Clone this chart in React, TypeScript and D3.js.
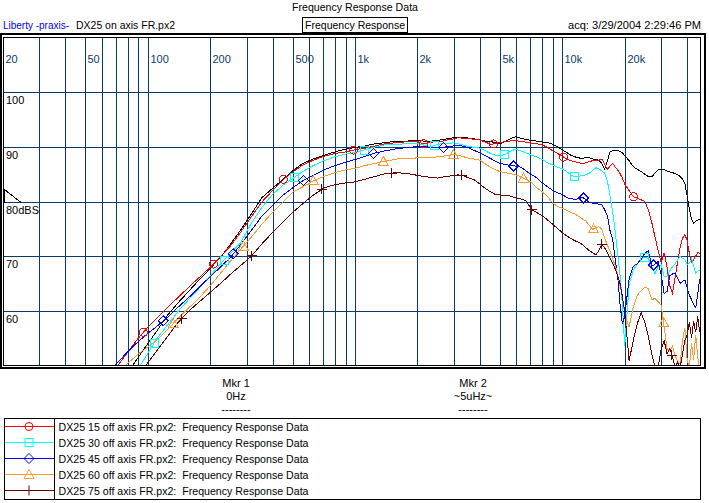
import * as d3 from 'd3';

// measurement grid (Hz) shared by every trace
const freqHz = [
  60, 70, 80, 90, 100, 110, 125, 140, 160, 180,
  200, 225, 250, 280, 315, 355, 400, 450, 500, 560,
  630, 710, 800, 900, 1000, 1120, 1250, 1400, 1600, 1800,
  2000, 2120, 2240, 2360, 2500, 2650, 2800, 3000, 3150, 3350,
  3550, 3750, 4000, 4250, 4500, 4750, 5000, 5300, 5600, 5950,
  6300, 6700, 7100, 7500, 8000, 8500, 9000, 9500, 10000,
  10500, 11000, 11500, 12000, 12500, 13000, 13500, 14000, 14500, 15000,
  15500, 16000, 16500, 17000, 17500, 18000, 18500, 19000, 19500, 20000,
  21000, 22000, 23000, 24000, 25000, 26000, 27000, 28000, 29000, 30000,
  31000, 32000, 33000, 34000, 35000, 36000, 37000, 38000, 39000, 40000,
  41000, 42000, 43000, 44000, 45000, 46000,
];

// on-axis reference trace (black, not in legend)
const dbOnAxis = [
  41.7, 45.4, 48.6, 51.4, 53.9, 56.1, 59.2, 61.4, 63.8, 65.9,
  67.7, 69.8, 72.1, 74.7, 77.6, 80.7, 82.4, 84.1, 85.6, 87.0,
  87.8, 88.5, 89.1, 89.6, 89.9, 90.2, 90.6, 90.8, 91.1, 91.1,
  91.2, 91.1, 91.1, 91.1, 91.2, 91.4, 91.5, 91.7, 91.8, 91.8,
  91.6, 91.5, 91.3, 91.1, 91.0, 90.8, 90.6, 91.0, 91.5, 91.9,
  91.6, 91.4, 91.2, 91.1, 90.9, 90.8, 90.5, 90.0, 89.5,
  89.0, 88.5, 88.2, 88.0, 87.9, 88.1, 88.0, 87.8, 87.7, 87.6,
  87.0, 85.9, 87.5, 89.1, 89.3, 89.4, 89.4, 89.2, 88.9, 88.4,
  87.5, 86.4, 85.9, 85.5, 85.0, 84.6, 84.5, 85.2, 85.8, 85.9,
  85.9, 85.6, 85.4, 85.3, 85.1, 84.9, 84.6, 84.1, 83.3, 81.0,
  78.6, 76.8, 76.0, 76.4, 76.6, 76.7,
];

const db15 = [
  46.1, 49.4, 52.3, 54.9, 56.9, 58.5, 60.6, 62.4, 64.5, 66.3,
  67.9, 69.9, 71.8, 74.3, 77.1, 79.9, 82.0, 84.0, 85.4, 86.7,
  87.6, 88.3, 88.8, 89.1, 89.5, 89.8, 90.2, 90.6, 90.8, 91.0,
  91.0, 90.6, 90.7, 90.9, 91.0, 91.1, 91.3, 91.5, 91.7, 91.6,
  91.6, 91.4, 91.3, 90.9, 90.5, 90.6, 90.8, 91.0, 91.1, 91.2,
  91.0, 90.9, 90.7, 90.6, 90.4, 89.9, 89.3, 88.8, 88.3,
  87.8, 87.5, 87.3, 87.1, 87.0, 87.1, 87.3, 87.5, 87.6, 87.6,
  87.8, 86.9, 85.9, 86.5, 87.0, 86.3, 85.8, 85.1, 84.3, 83.2,
  82.0, 80.9, 80.6, 80.3, 80.0, 78.5, 76.2, 73.5, 71.0, 68.8,
  70.6, 68.0, 64.5, 63.2, 66.0, 69.0, 71.5, 73.2, 74.0, 72.8,
  70.5, 68.8, 69.3, 70.0, 70.6, 70.5,
];

const db30 = [
  39.8, 43.4, 46.5, 49.3, 52.1, 54.7, 57.4, 59.8, 62.3, 64.4,
  66.3, 68.6, 70.4, 72.4, 75.9, 78.9, 81.3, 83.0, 84.2, 85.5,
  86.6, 87.5, 88.2, 88.7, 89.0, 89.5, 90.0, 90.4, 90.5, 90.6,
  90.6, 90.4, 90.2, 90.1, 90.5, 90.6, 90.6, 90.8, 90.6, 90.3,
  90.1, 89.9, 89.8, 89.3, 88.8, 88.5, 88.4, 88.6, 89.2, 89.6,
  89.3, 88.9, 88.5, 88.2, 87.7, 87.1, 86.7, 86.3, 86.0,
  85.5, 84.9, 84.5, 84.6, 84.8, 84.9, 85.2, 85.7, 86.2, 86.0,
  85.6, 85.2, 83.8, 80.9, 78.0, 74.5, 70.3, 66.3, 61.0, 53.5,
  64.8, 67.4, 68.5, 69.4, 69.8, 69.5, 68.1, 66.8, 68.0, 68.4,
  66.2, 66.3, 67.3, 68.0, 68.6, 69.3, 69.9, 69.6, 69.3, 68.5,
  68.6, 69.5, 68.2, 66.9, 67.2, 67.4,
];

const db45 = [
  47.6, 50.1, 52.4, 54.3, 55.8, 57.0, 58.8, 60.6, 62.6, 64.5,
  66.2, 68.0, 69.7, 72.0, 74.6, 77.3, 79.3, 81.2, 82.5, 83.8,
  84.8, 85.8, 86.6, 87.2, 87.7, 88.3, 88.9, 89.3, 89.7, 89.9,
  90.1, 90.1, 90.0, 90.0, 90.0, 89.9, 90.1, 90.2, 90.3, 90.1,
  89.8, 89.4, 88.9, 88.4, 87.9, 87.4, 87.0, 86.8, 86.6, 86.5,
  86.3, 85.6, 84.9, 84.4, 83.4, 82.7, 82.0, 81.6, 81.3,
  80.7, 80.5, 80.4, 80.5, 80.8, 80.3, 79.8, 79.7, 79.7, 79.5,
  79.4, 78.5, 77.4, 74.6, 73.0, 69.3, 66.2, 61.0, 57.5, 59.0,
  65.8, 68.1, 68.6, 69.4, 70.5, 71.0, 68.1, 68.5, 69.0, 66.5,
  63.1, 63.5, 66.4, 66.7, 66.8, 65.9, 65.0, 65.3, 65.6, 64.2,
  62.8, 62.0, 61.2, 60.5, 63.0, 65.8,
];

const db60 = [
  45.6, 48.1, 50.3, 52.0, 53.3, 54.5, 56.6, 58.5, 60.7, 62.6,
  64.5, 66.9, 69.0, 71.2, 73.4, 75.8, 78.0, 79.9, 81.7, 82.7,
  83.8, 84.6, 85.3, 85.8, 86.1, 86.6, 87.0, 87.4, 87.8, 87.9,
  88.0, 88.0, 88.1, 88.1, 88.2, 88.3, 88.5, 88.6, 88.5, 88.2,
  87.9, 87.8, 87.6, 86.9, 86.3, 85.8, 85.5, 85.3, 85.1, 84.9,
  84.6, 84.0, 83.5, 82.6, 81.8, 80.9, 79.7, 79.1, 78.8,
  78.4, 78.0, 77.7, 77.3, 76.8, 76.4, 75.6, 74.9, 75.1, 75.4,
  74.9, 73.3, 72.0, 70.9, 69.5, 68.2, 66.6, 64.5, 62.5, 59.3,
  57.0, 60.7, 62.8, 63.6, 64.3, 64.0, 62.0, 62.2, 61.6, 61.0,
  57.0, 53.0, 52.6, 53.4, 51.8, 50.6, 50.2, 54.5, 56.8, 51.0,
  49.5, 54.0, 51.0, 55.5, 51.5, 49.0,
];

const db75 = [
  39.1, 42.6, 45.5, 48.1, 50.4, 52.5, 55.3, 57.8, 60.1, 61.8,
  63.3, 65.0, 66.6, 68.2, 69.9, 72.2, 74.3, 76.3, 78.0, 79.6,
  81.2, 82.5, 83.1, 83.4, 83.6, 84.1, 84.6, 85.1, 85.3, 85.1,
  84.8, 84.6, 84.5, 84.4, 84.3, 84.5, 84.6, 84.8, 84.9, 84.7,
  84.3, 84.0, 83.2, 82.4, 81.8, 81.3, 81.2, 81.1, 81.0, 80.7,
  80.5, 80.1, 78.5, 78.0, 77.4, 76.6, 75.8, 75.0, 74.3,
  73.7, 73.2, 72.8, 72.5, 72.1, 71.5, 71.0, 70.6, 70.2, 71.0,
  72.2, 71.5, 70.6, 69.6, 68.7, 67.6, 66.4, 64.9, 62.5, 59.8,
  50.8, 54.5, 57.6, 59.6, 57.8, 55.2, 52.1, 49.5, 49.5, 53.0,
  54.5, 52.0, 53.0, 51.5, 49.5, 50.5, 49.5, 52.0, 54.5, 55.5,
  57.8, 55.0, 58.0, 56.0, 58.9, 56.0,
];

const legendLabels = [
  'DX25 15 off axis FR.px2:  Frequency Response Data',
  'DX25 30 off axis FR.px2:  Frequency Response Data',
  'DX25 45 off axis FR.px2:  Frequency Response Data',
  'DX25 60 off axis FR.px2:  Frequency Response Data',
  'DX25 75 off axis FR.px2:  Frequency Response Data',
];
const seriesColors = ['#ff0000', '#00ffff', '#0000ff', '#ff9933', '#6b0000'];
const seriesSymbols = ['circle', 'square', 'diamond', 'triangle', 'plus'];
const seriesValues = [db15, db30, db45, db60, db75];
// first marker frequency of each trace, markers repeat every 2.177x
const markerStartHz = [95.3, 107.3, 118.9, 132.9, 145.9];
const markerRatio = 2.177;
const markerCount = 8;

const xLabelHz = [20, 50, 100, 200, 500, 1000, 2000, 5000, 10000, 20000];
const xLabelText = ['20', '50', '100', '200', '500', '1k', '2k', '5k', '10k', '20k'];
const yGridDb = [100, 90, 80, 70, 60];
const yLabelText = ['100', '90', '80dBS', '70', '60'];

const GRID = '#0b3b6b';
const FONT = '"Liberation Sans", Arial, sans-serif';

const x = d3.scaleLog().domain([20, 46000]).range([2.8, 699.7]);
const y = d3.scaleLinear().domain([50, 110]).range([365, 38]);

function levelAt(values: number[], f: number) {
  const i = d3.bisectLeft(freqHz, f);
  if (i <= 0) return values[0];
  if (i >= freqHz.length) return values[values.length - 1];
  const a = Math.log10(freqHz[i - 1]);
  const b = Math.log10(freqHz[i]);
  const t = (Math.log10(f) - a) / (b - a);
  return values[i - 1] + t * (values[i] - values[i - 1]);
}

function Symbol({ kind, cx, cy, color }: { kind: string; cx: number; cy: number; color: string }) {
  const p = { stroke: color, fill: 'none', strokeWidth: 1 };
  if (kind === 'circle') return <circle cx={cx} cy={cy} r={4} {...p} />;
  if (kind === 'square') return <rect x={cx - 4} y={cy - 4} width={8} height={8} {...p} />;
  if (kind === 'diamond')
    return <path d={`M${cx},${cy - 5}L${cx + 5},${cy}L${cx},${cy + 5}L${cx - 5},${cy}Z`} {...p} />;
  if (kind === 'triangle')
    return <path d={`M${cx},${cy - 5}L${cx + 5},${cy + 4}L${cx - 5},${cy + 4}Z`} {...p} />;
  return <path d={`M${cx - 5},${cy}H${cx + 5}M${cx},${cy - 5}V${cy + 5}`} {...p} />;
}

export default function App() {
  const line = d3
    .line<number>()
    .x((_, i) => x(freqHz[i]))
    .y((d) => y(d));

  const vGrid = x.ticks().filter((t) => t > 20);
  const y80 = Math.round(y(80)) + 0.5;

  return (
    <svg
      width={709}
      height={503}
      style={{ position: 'absolute', left: 0, top: 0, background: '#fff' }}
      fontFamily={FONT}
      fontSize={11}
    >
      <defs>
        <clipPath id="plotClip">
          <rect x={3.5} y={38} width={697} height={327} />
        </clipPath>
      </defs>

      {/* header */}
      <text x={355} y={11} textAnchor="middle" textLength={126} lengthAdjust="spacingAndGlyphs">
        Frequency Response Data
      </text>
      <text x={3} y={29} fill="#0000ff" textLength={66} lengthAdjust="spacingAndGlyphs">
        Liberty -praxis-
      </text>
      <text x={76} y={29} textLength={99} lengthAdjust="spacingAndGlyphs">
        DX25 on axis FR.px2
      </text>
      <rect x={302.5} y={17.5} width={105} height={14.5} fill="none" stroke="#000" shapeRendering="crispEdges" />
      <text x={305} y={29} textLength={100} lengthAdjust="spacingAndGlyphs">
        Frequency Response
      </text>
      <text x={701} y={29} textAnchor="end" textLength={133} lengthAdjust="spacingAndGlyphs">
        acq: 3/29/2004 2:29:46 PM
      </text>

      {/* grid */}
      <g stroke={GRID} strokeWidth={1} shapeRendering="crispEdges">
        {vGrid.map((t) => (
          <line key={t} x1={Math.round(x(t)) + 0.5} x2={Math.round(x(t)) + 0.5} y1={38} y2={365} />
        ))}
        {yGridDb.map((d) => (
          <line key={d} x1={3.5} x2={700.5} y1={Math.round(y(d)) + 0.5} y2={Math.round(y(d)) + 0.5} />
        ))}
      </g>
      {xLabelHz.map((f, i) => (
        <text key={f} x={Math.round(x(f)) + 2.5} y={63} fill={GRID}>
          {xLabelText[i]}
        </text>
      ))}
      {yGridDb.map((d, i) => (
        <text key={d} x={6} y={Math.round(y(d)) + 12} fill="#000">
          {yLabelText[i]}
        </text>
      ))}
      <path
        d={`M4.5,${y80}V${y80 - 13}L21,${y80}`}
        fill="none"
        stroke="#000"
        shapeRendering="crispEdges"
      />

      {/* traces */}
      <g clipPath="url(#plotClip)" fill="none" strokeWidth={1} shapeRendering="crispEdges">
        <path d={line(dbOnAxis) ?? ''} stroke="#000" />
        {seriesValues.map((vals, s) => (
          <path key={s} d={line(vals) ?? ''} stroke={seriesColors[s]} />
        ))}
        {seriesValues.map((vals, s) =>
          d3.range(markerCount).map((k) => {
            const f = markerStartHz[s] * Math.pow(markerRatio, k);
            return (
              <Symbol
                key={`${s}-${k}`}
                kind={seriesSymbols[s]}
                cx={x(f)}
                cy={y(levelAt(vals, f))}
                color={seriesColors[s]}
              />
            );
          })
        )}
      </g>

      {/* frame */}
      <rect x={3.5} y={37.5} width={697} height={327.5} fill="none" stroke="#000" shapeRendering="crispEdges" />
      <rect x={1} y={34} width={704} height={334} fill="none" stroke="#000" strokeWidth={2} shapeRendering="crispEdges" />

      {/* markers readout */}
      {[
        { cx: 236, lines: ['Mkr 1', '0Hz', '--------'] },
        { cx: 473, lines: ['Mkr 2', '~5uHz~', '--------'] },
      ].map((m) =>
        m.lines.map((t, i) => (
          <text key={`${m.cx}-${i}`} x={m.cx} y={387 + i * 13} textAnchor="middle">
            {t}
          </text>
        ))
      )}

      {/* legend */}
      <g shapeRendering="crispEdges">
        <rect x={4.5} y={418.5} width={696} height={80.5} fill="none" stroke="#000" />
        <line x1={54.5} x2={54.5} y1={418.5} y2={499} stroke="#000" />
      </g>
      {legendLabels.map((lab, s) => {
        const ry = 426.5 + s * 16;
        return (
          <g key={lab}>
            <line x1={5} x2={54} y1={ry} y2={ry} stroke={seriesColors[s]} shapeRendering="crispEdges" />
            <Symbol kind={seriesSymbols[s]} cx={29} cy={ry} color={seriesColors[s]} />
            <text x={58.5} y={ry + 4} textLength={250} lengthAdjust="spacingAndGlyphs" style={{ whiteSpace: 'pre' }}>
              {lab}
            </text>
          </g>
        );
      })}
    </svg>
  );
}
